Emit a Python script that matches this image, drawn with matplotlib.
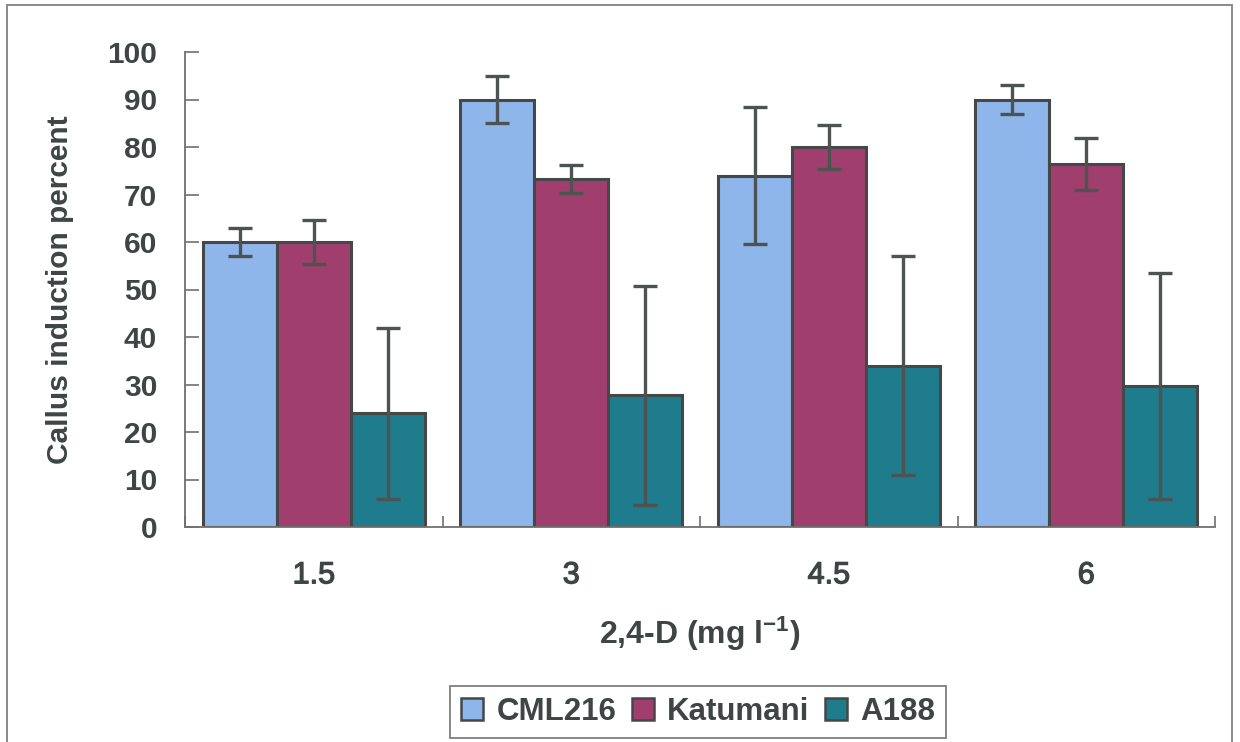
import numpy as np
import matplotlib
matplotlib.use("Agg")
import matplotlib.pyplot as plt
import matplotlib.patheffects as pe
from matplotlib.patches import Rectangle

plt.rcParams['font.family'] = ['Liberation Sans', 'DejaVu Sans']
plt.rcParams['mathtext.fontset'] = 'custom'
plt.rcParams['mathtext.rm'] = 'Liberation Sans:bold'
plt.rcParams['mathtext.it'] = 'Liberation Sans:bold'
plt.rcParams['mathtext.bf'] = 'Liberation Sans:bold'

# data
doses = ["1.5", "3", "4.5", "6"]
cml216 = [60, 90, 74, 90]
cml216_err = [3, 5, 14.5, 3]
katumani = [60, 73.3, 80, 76.5]
katumani_err = [4.7, 3, 4.6, 5.5]
a188 = [24, 27.7, 34, 29.7]
a188_err = [18, 23, 23, 23.7]

series = [("CML216", cml216, cml216_err, "#8fb6ea"),
          ("Katumani", katumani, katumani_err, "#a03f6e"),
          ("A188", a188, a188_err, "#1e7c8c")]

text_col = "#3f4445"
edge_col = "#444848"
fs = 21.5

fig = plt.figure(figsize=(12.4, 7.42), dpi=100)
ax = fig.add_axes([185 / 1240, 1 - 527 / 742, 1030 / 1240, 475 / 742])

x = np.arange(len(doses))
width = 0.287
for i, (name, vals, errs, col) in enumerate(series):
    pos = x + (i - 1) * width
    ax.bar(pos, vals, width, color=col, edgecolor=edge_col, linewidth=2.2,
           label=name, zorder=2)
    ax.errorbar(pos, vals, yerr=errs, fmt='none', ecolor="#4d5252",
                elinewidth=2.4, capsize=8.5, capthick=2.4, zorder=3)

ax.set_xlim(-0.5, len(doses) - 0.5)
ax.set_ylim(0, 100)
ax.set_yticks(np.arange(0, 101, 10))
ax.set_xticks(x)
ax.set_xticklabels(doses)
ax.set_xticks(np.arange(-0.5, len(doses), 1), minor=True)

for s in ['top', 'right']:
    ax.spines[s].set_visible(False)
for s in ['left', 'bottom']:
    ax.spines[s].set_color("#707070")
    ax.spines[s].set_linewidth(1.3)

ax.tick_params(axis='y', direction='in', length=10, width=1.2, color="#707070",
               pad=20, labelsize=fs, labelcolor=text_col)
ax.tick_params(axis='x', which='major', length=0, pad=24, labelsize=22,
               labelcolor=text_col)
ax.tick_params(axis='x', which='minor', direction='in', length=8, width=1.2,
               color="#707070")
for lab in ax.get_yticklabels():
    lab.set_fontweight('bold')
# x tick labels are a bit heavier than regular in the scan
for lab in ax.get_xticklabels():
    lab.set_path_effects([pe.withStroke(linewidth=0.9, foreground=text_col)])

ax.set_ylabel("Callus induction percent", fontsize=fs, fontweight='bold',
              color=text_col, va='center')
ax.yaxis.set_label_coords(-0.121, 0.5)
ax.set_xlabel(r"2,4-D (mg l$^{-1}$)", fontsize=23, fontweight='bold',
              color=text_col)
ax.xaxis.set_label_coords(0.5, -0.185)

leg = fig.legend(loc='center', bbox_to_anchor=(0.563, 0.041), ncol=3,
                 prop={'weight': 'bold', 'size': 22.5},
                 handlelength=0.7, handleheight=0.7, handletextpad=0.42,
                 columnspacing=0.5, borderpad=0.35, fancybox=False,
                 frameon=True)
leg.get_frame().set_edgecolor("#606060")
leg.get_frame().set_linewidth(1.3)
for t in leg.get_texts():
    t.set_color(text_col)
for h in leg.legend_handles:
    h.set_linewidth(1.8)

# outer chart frame
fig.patches.append(Rectangle((7 / 1240, -0.02), 1225 / 1240, 1.02 - 5 / 742,
                             transform=fig.transFigure, fill=False,
                             edgecolor="#8a8a8a", linewidth=1.4))

fig.savefig("out.png", dpi=100)
